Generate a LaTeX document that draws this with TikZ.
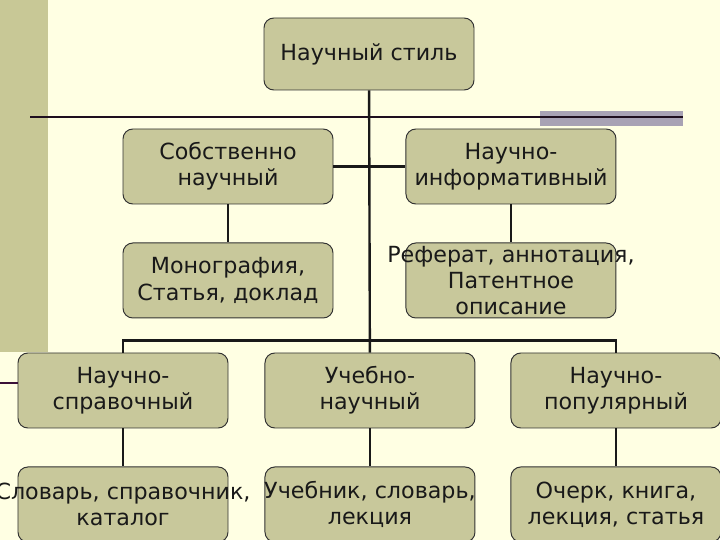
\documentclass[tikz,border=0pt]{standalone}
\usepackage{fontspec}
\setmainfont{DejaVu Sans}
\usetikzlibrary{positioning}
\definecolor{paper}{HTML}{FFFFE3}
\definecolor{strip}{HTML}{C8C896}
\definecolor{boxfill}{HTML}{C8C89B}
\definecolor{rulecol}{HTML}{1E0E1E}
\definecolor{barcol}{HTML}{A8A2B4}
\definecolor{accent}{HTML}{3A1038}

\begin{document}
\begin{tikzpicture}[
    node distance=0.95cm and 0.9cm,
    box/.style={draw=black!80, line width=0.7pt, rounded corners=7pt, fill=boxfill,
                minimum width=5.25cm, minimum height=1.875cm, inner sep=0pt},
    txt/.style={align=center, font=\fontsize{15.8}{18.6}\selectfont, text=black!90},
    link/.style={line width=1.7pt, black!90}
  ]
  % slide background
  \useasboundingbox (0,0) rectangle (18,13.5);
  \clip (0,0) rectangle (18,13.5);
  \fill[paper] (0,0) rectangle (18,13.5);
  \fill[strip] (0,4.7) rectangle (1.2,13.5);
  \fill[barcol] (13.5,10.35) rectangle (17.075,10.725);
  \draw[rulecol, line width=2pt] (0.75,10.575) -- (17.075,10.575);

  \node (root)   [box, minimum height=1.8cm, label={[txt]center:Научный стиль}] at (9.225,12.15) {};
  \node (sob)    [box, label={[txt]center:Собственно\\научный}] at (5.7,9.3375) {};
  \node (inf)    [box, right=1.8cm of sob, label={[txt]center:Научно-\\информативный}] {};
  \node (mono)   [box, below=of sob, label={[txt]center:Монография,\\Статья, доклад}] {};
  \node (ref)    [box, below=of inf, label={[txt]center:Реферат, аннотация,\\Патентное\\описание}] {};

  \node (spr)    [box, label={[txt]center:Научно-\\справочный}] at (3.075,3.7375) {};
  \node (ucheb)  [box, right=of spr, label={[txt]center:Учебно-\\научный}] {};
  \node (pop)    [box, right=0.875cm of ucheb, label={[txt]center:Научно-\\популярный}] {};
  \node (slov)   [box, below=of spr, label={[txt]center:Словарь, справочник,\\каталог}] {};
  \node (uchebn) [box, below=of ucheb, label={[txt]center:Учебник, словарь,\\лекция}] {};
  \node (ocherk) [box, below=of pop, label={[txt]center:Очерк, книга,\\лекция, статья}] {};

  \coordinate (edge) at (0,3.925);
  \draw[accent, line width=2pt] (edge) -- (edge -| spr.west);

  \draw[link] (root) -- (ucheb);
  \draw[link] (sob)  -- (inf);
  \draw[link] (sob)  -- (mono);
  \draw[link] (inf)  -- (ref);
  \draw[link] (spr.north) -- ++(0,0.3) -| (pop.north);
  \draw[link] (spr)   -- (slov);
  \draw[link] (ucheb) -- (uchebn);
  \draw[link] (pop)   -- (ocherk);
\end{tikzpicture}
\end{document}
